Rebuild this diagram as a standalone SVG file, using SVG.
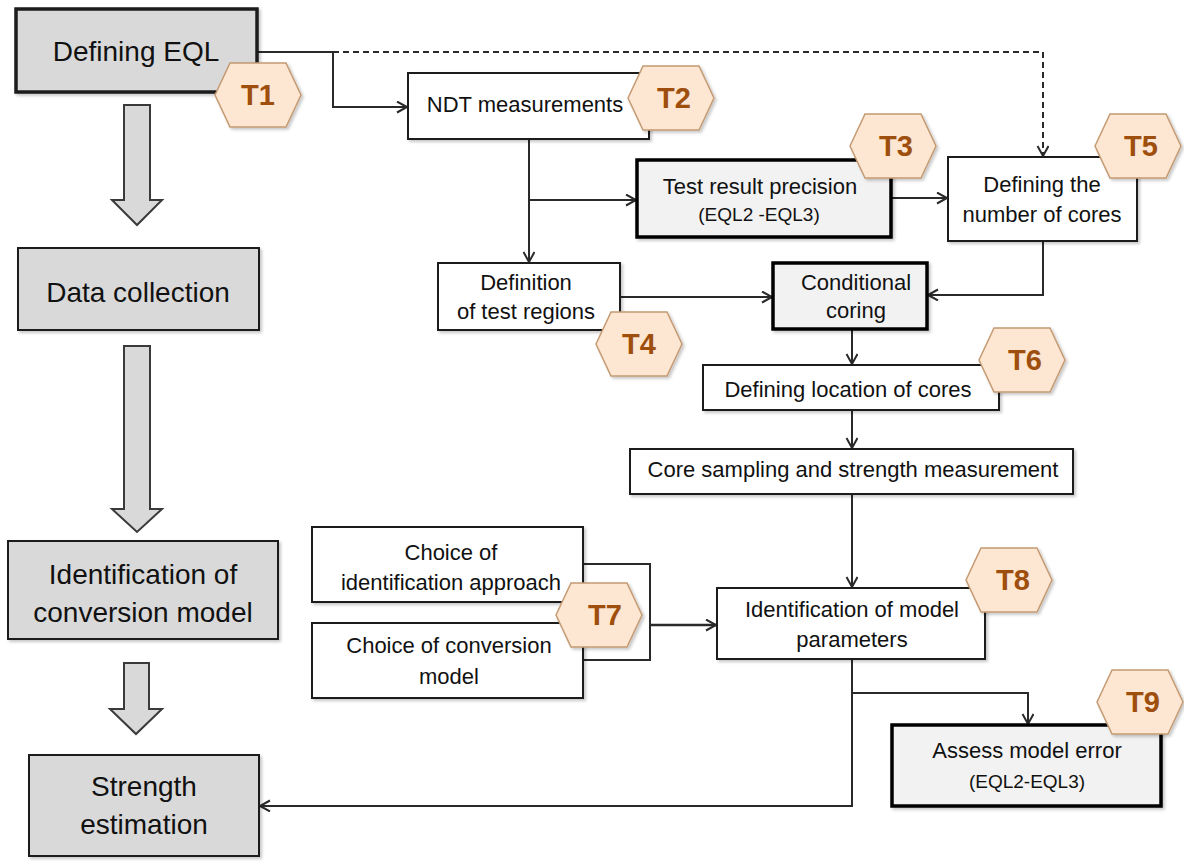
<svg xmlns="http://www.w3.org/2000/svg" width="1184" height="861" viewBox="0 0 1184 861">
  <style>
    .box { fill: #ffffff; stroke: #1e1e1e; stroke-width: 2; filter: url(#shadow); }
    .phase { fill: #d9d9d9; stroke: #1e1e1e; stroke-width: 2; filter: url(#shadow); }
    .key { fill: #f2f2f2; stroke: #000000; stroke-width: 3.5; filter: url(#shadow); }
    .fat { fill: #d9d9d9; stroke: #3a3a3a; stroke-width: 2; }
    .hex { fill: #fde6d2; stroke: #c49a72; stroke-width: 1.5; filter: url(#shadow); }
    .lbl { font-family: "Liberation Sans", Arial, sans-serif; font-size: 22px; fill: #111111; text-anchor: middle; }
    .big { font-family: "Liberation Sans", Arial, sans-serif; font-size: 28px; fill: #111111; text-anchor: middle; }
    .sm { font-family: "Liberation Sans", Arial, sans-serif; font-size: 19px; fill: #111111; text-anchor: middle; }
    .tag { font-family: "Liberation Sans", Arial, sans-serif; font-size: 29px; font-weight: bold; fill: #9e4f0d; text-anchor: middle; }
    .wire { fill: none; stroke: #2a2a2a; stroke-width: 2; marker-end: url(#open); }
    .dash { stroke-dasharray: 6 4; }
  </style>
  <defs>
    <filter id="shadow" x="-10%" y="-10%" width="130%" height="140%">
      <feDropShadow dx="2" dy="2" stdDeviation="1.5" flood-color="#000000" flood-opacity="0.22"/>
    </filter>
    <marker id="open" markerUnits="userSpaceOnUse" markerWidth="14" markerHeight="14" refX="11" refY="6" orient="auto">
      <path d="M1,0.5 L11,6 L1,11.5" fill="none" stroke="#2a2a2a" stroke-width="2"/>
    </marker>
    <polygon id="hexshape" points="-43,0 -28,-32 28,-32 43,0 28,32 -28,32"/>
  </defs>

  <!-- connectors -->
  <g id="connectors">
    <polyline class="wire" points="257,52 333,52 333,107 407,107"/>
    <polyline class="wire dash" points="333,52 1043,52 1043,156"/>
    <polyline class="wire" points="529,139 529,262"/>
    <polyline class="wire" points="529,200 636,200"/>
    <polyline class="wire" points="891,198 947,198"/>
    <polyline class="wire" points="620,297 772,297"/>
    <polyline class="wire" points="1043,241 1043,295 928,295"/>
    <polyline class="wire" points="852,329 852,364"/>
    <polyline class="wire" points="852,410 852,448"/>
    <polyline class="wire" points="852,494 852,587"/>
    <polyline class="wire" points="852,659 852,806 260,806"/>
    <polyline class="wire" points="852,693 1028,693 1028,724"/>
    <polyline fill="none" stroke="#2a2a2a" stroke-width="2" points="583,564 650,564 650,660 583,660"/>
    <polyline class="wire" style="stroke-width:2.5" points="650,625 716,625"/>
  </g>

  <!-- phase column -->
  <g id="phase-arrows">
    <polygon class="fat" points="124,105 150,105 150,200 162,200 137,225 112,200 124,200"/>
    <polygon class="fat" points="124,346 150,346 150,509 162,509 137,532 112,509 124,509"/>
    <polygon class="fat" points="124,663 149,663 149,709 162,709 136,734 110,709 124,709"/>
  </g>

  <g id="defining-eql">
    <rect class="phase" x="16" y="9" width="241" height="83" style="stroke-width:3.5"/>
    <text class="big" x="136" y="61">Defining EQL</text>
  </g>
  <g id="data-collection">
    <rect class="phase" x="18" y="248" width="241" height="82"/>
    <text class="big" x="138" y="302">Data collection</text>
  </g>
  <g id="identification-conversion">
    <rect class="phase" x="8" y="541" width="270" height="98"/>
    <text class="big" x="143" y="584">Identification of</text>
    <text class="big" x="143" y="622">conversion model</text>
  </g>
  <g id="strength-estimation">
    <rect class="phase" x="29" y="755" width="230" height="101"/>
    <text class="big" x="144" y="796">Strength</text>
    <text class="big" x="144" y="834">estimation</text>
  </g>

  <!-- task boxes -->
  <g id="ndt-measurements">
    <rect class="box" x="408" y="73" width="241" height="66"/>
    <text class="lbl" x="525" y="112">NDT measurements</text>
  </g>
  <g id="test-result-precision">
    <rect class="key" x="637" y="160" width="254" height="77"/>
    <text class="lbl" x="760" y="194">Test result precision</text>
    <text class="sm" x="759" y="221">(EQL2 -EQL3)</text>
  </g>
  <g id="number-of-cores">
    <rect class="box" x="948" y="157" width="189" height="84"/>
    <text class="lbl" x="1042" y="192">Defining the</text>
    <text class="lbl" x="1042" y="222">number of cores</text>
  </g>
  <g id="test-regions">
    <rect class="box" x="438" y="263" width="182" height="67"/>
    <text class="lbl" x="526" y="290">Definition</text>
    <text class="lbl" x="526" y="319">of test regions</text>
  </g>
  <g id="conditional-coring">
    <rect class="key" x="773" y="263" width="154" height="66"/>
    <text class="lbl" x="856" y="290">Conditional</text>
    <text class="lbl" x="856" y="318">coring</text>
  </g>
  <g id="location-of-cores">
    <rect class="box" x="703" y="365" width="296" height="45"/>
    <text class="lbl" x="848" y="397">Defining location of cores</text>
  </g>
  <g id="core-sampling">
    <rect class="box" x="630" y="449" width="443" height="45"/>
    <text class="lbl" x="853" y="477">Core sampling and strength measurement</text>
  </g>
  <g id="identification-approach">
    <rect class="box" x="312" y="527" width="271" height="75"/>
    <text class="lbl" x="451" y="560">Choice of</text>
    <text class="lbl" x="451" y="590">identification approach</text>
  </g>
  <g id="conversion-model-choice">
    <rect class="box" x="312" y="623" width="271" height="75"/>
    <text class="lbl" x="449" y="653">Choice of conversion</text>
    <text class="lbl" x="449" y="684">model</text>
  </g>
  <g id="model-parameters">
    <rect class="box" x="717" y="588" width="268" height="71"/>
    <text class="lbl" x="852" y="617">Identification of model</text>
    <text class="lbl" x="852" y="647">parameters</text>
  </g>
  <g id="model-error">
    <rect class="key" x="892" y="725" width="269" height="81"/>
    <text class="lbl" x="1027" y="758">Assess model error</text>
    <text class="sm" x="1027" y="788">(EQL2-EQL3)</text>
  </g>

  <!-- task tags -->
  <g id="tag-t1"><use href="#hexshape" class="hex" x="258" y="95"/><text class="tag" x="258" y="105">T1</text></g>
  <g id="tag-t2"><use href="#hexshape" class="hex" x="671" y="98"/><text class="tag" x="674" y="108">T2</text></g>
  <g id="tag-t3"><use href="#hexshape" class="hex" x="893" y="146"/><text class="tag" x="896" y="156">T3</text></g>
  <g id="tag-t4"><use href="#hexshape" class="hex" x="639" y="344"/><text class="tag" x="639" y="354">T4</text></g>
  <g id="tag-t5"><use href="#hexshape" class="hex" x="1138" y="146"/><text class="tag" x="1141" y="156">T5</text></g>
  <g id="tag-t6"><use href="#hexshape" class="hex" x="1022" y="360"/><text class="tag" x="1025" y="370">T6</text></g>
  <g id="tag-t7"><use href="#hexshape" class="hex" x="599" y="615"/><text class="tag" x="605" y="625">T7</text></g>
  <g id="tag-t8"><use href="#hexshape" class="hex" x="1009" y="580"/><text class="tag" x="1013" y="590">T8</text></g>
  <g id="tag-t9"><use href="#hexshape" class="hex" x="1140" y="702"/><text class="tag" x="1143" y="712">T9</text></g>
</svg>
